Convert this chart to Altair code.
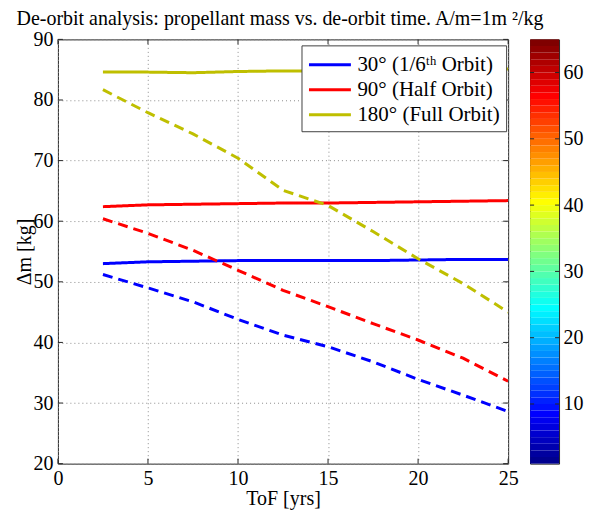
import altair as alt
import pandas as pd

# ---------------- data ----------------
tof_years = [2.5, 5, 7.5, 10, 12.5, 15, 17.5, 20, 22.5, 25]
series_labels = ["30° (1/6ᵗʰ Orbit)", "90° (Half Orbit)", "180° (Full Orbit)"]
series_colors = ["#0000FF", "#FF0000", "#BFBF00"]

solid_30 = [53.0, 53.3, 53.4, 53.5, 53.5, 53.5, 53.5, 53.6, 53.7, 53.7]
solid_90 = [62.4, 62.7, 62.8, 62.9, 63.0, 63.0, 63.1, 63.2, 63.3, 63.4]
solid_180 = [84.6, 84.6, 84.5, 84.7, 84.8, 84.8, 84.9, 85.0, 85.1, 85.1]
dashed_30 = [51.2, 49.0, 46.7, 43.8, 41.2, 39.3, 36.8, 33.9, 31.3, 28.6]
dashed_90 = [60.4, 58.0, 55.2, 51.9, 48.6, 45.9, 43.1, 40.4, 37.4, 33.6]
dashed_180 = [81.7, 77.9, 74.4, 70.4, 65.1, 62.6, 58.3, 53.8, 49.7, 45.0]

x_ticks = [0, 5, 10, 15, 20, 25]
y_ticks = [20, 30, 40, 50, 60, 70, 80, 90]
cbar_ticks = [10, 20, 30, 40, 50, 60]
cbar_domain = [1, 65]


# MATLAB jet(64) colormap
def jet(m=64):
    n = -(-m // 4)
    u = [i / n for i in range(1, n + 1)] + [1.0] * (n - 1) + [i / n for i in range(n, 0, -1)]
    off = -(-n // 2) - (1 if m % 4 == 1 else 0)
    r = [0.0] * m
    g = [0.0] * m
    b = [0.0] * m
    for k, val in enumerate(u, start=1):
        gi = off + k
        ri = gi + n
        bi = gi - n
        if 1 <= gi <= m:
            g[gi - 1] = val
        if 1 <= ri <= m:
            r[ri - 1] = val
        if 1 <= bi <= m:
            b[bi - 1] = val
    return ["#%02x%02x%02x" % (round(r[i] * 255), round(g[i] * 255), round(b[i] * 255)) for i in range(m)]


jet64 = jet(64)

rows = []
for label, solid, dashed in zip(series_labels,
                                [solid_30, solid_90, solid_180],
                                [dashed_30, dashed_90, dashed_180]):
    for t, v in zip(tof_years, solid):
        rows.append({"tof": t, "dm": v, "series": label, "style": "solid"})
    for t, v in zip(tof_years, dashed):
        rows.append({"tof": t, "dm": v, "series": label, "style": "dashed"})
df = pd.DataFrame(rows)
df["key"] = df["series"] + "|" + df["style"]

FONT = "Liberation Serif"
W, H = 451, 425
TICK = "#262626"

xscale = alt.Scale(domain=[0, 25], nice=False, zero=False)
yscale = alt.Scale(domain=[20, 90], nice=False, zero=False)

x_axis = alt.Axis(values=x_ticks, title="ToF [yrs]", grid=True, gridDash=[1, 3],
                  gridColor="#8c8c8c", gridOpacity=1, ticks=False, domain=False,
                  labelFlush=False,
                  labelFont=FONT, labelFontSize=20, labelColor="black", labelPadding=5,
                  titleFont=FONT, titleFontSize=20, titleFontWeight="normal",
                  titleColor="black", titlePadding=0)
y_axis = alt.Axis(values=y_ticks, title="Δm [kg]", grid=True, gridDash=[1, 3],
                  gridColor="#8c8c8c", gridOpacity=1, ticks=False, domain=False,
                  labelFlush=False,
                  labelFont=FONT, labelFontSize=20, labelColor="black", labelPadding=5,
                  titleFont=FONT, titleFontSize=20, titleFontWeight="normal",
                  titleColor="black", titlePadding=-2)

X = lambda f: alt.X(f, scale=xscale, axis=x_axis)
Y = lambda f: alt.Y(f, scale=yscale, axis=y_axis)

lines = alt.Chart(df).mark_line(strokeWidth=3, clip=True).encode(
    x=X("tof:Q"),
    y=Y("dm:Q"),
    stroke=alt.Stroke("series:N", scale=alt.Scale(domain=series_labels, range=series_colors),
                      legend=alt.Legend(title=None, orient="none", legendX=244, legendY=6,
                                        fillColor="white", strokeColor="#404040",
                                        padding=6, symbolType="M-1,0L2.5,0",
                                        symbolSize=576, symbolStrokeWidth=3,
                                        labelFont=FONT, labelFontSize=21, labelColor="black",
                                        labelOffset=23, rowPadding=1, labelLimit=300)),
    strokeDash=alt.StrokeDash("style:N",
                              scale=alt.Scale(domain=["solid", "dashed"], range=[[1, 0], [10, 6]]),
                              legend=None),
    detail="key:N",
    order="tof:Q",
)

ydf = pd.DataFrame({"tof": [0] * len(y_ticks), "dm": y_ticks})
xdf = pd.DataFrame({"tof": x_ticks, "dm": [20] * len(x_ticks)})
yt_l = alt.Chart(ydf).mark_rule(color=TICK).encode(
    y=Y("dm:Q"), x=alt.value(0), x2=alt.value(5))
yt_r = alt.Chart(ydf).mark_rule(color=TICK).encode(
    y=Y("dm:Q"), x=alt.value(W - 5), x2=alt.value(W))
xt_b = alt.Chart(xdf).mark_rule(color=TICK).encode(
    x=X("tof:Q"), y=alt.value(H - 5), y2=alt.value(H))
xt_t = alt.Chart(xdf).mark_rule(color=TICK).encode(
    x=X("tof:Q"), y=alt.value(0), y2=alt.value(5))

main = alt.layer(lines, yt_l, yt_r, xt_b, xt_t).properties(width=W, height=H)

cb = pd.DataFrame({"lo": list(range(1, 65)), "hi": list(range(2, 66)), "c": jet64})
cscale = alt.Scale(domain=cbar_domain, nice=False, zero=False)
c_axis = alt.Axis(orient="right", values=cbar_ticks, ticks=False, domain=False,
                  grid=False, title=None, labelFont=FONT, labelFontSize=20,
                  labelColor="black", labelPadding=4, labelFlush=False)
cbar_rect = alt.Chart(cb).mark_rect(strokeWidth=0).encode(
    y=alt.Y("lo:Q", scale=cscale, axis=c_axis),
    y2="hi:Q",
    fill=alt.Fill("c:N", scale=None, legend=None),
    x=alt.value(0), x2=alt.value(29),
)
cdf = pd.DataFrame({"lo": cbar_ticks})
ct_l = alt.Chart(cdf).mark_rule(color=TICK).encode(
    y=alt.Y("lo:Q", scale=cscale, axis=c_axis), x=alt.value(0), x2=alt.value(4))
ct_r = alt.Chart(cdf).mark_rule(color=TICK).encode(
    y=alt.Y("lo:Q", scale=cscale, axis=c_axis), x=alt.value(25), x2=alt.value(29))
cbar = alt.layer(cbar_rect, ct_l, ct_r).properties(width=29, height=H)

chart = alt.hconcat(main, cbar, spacing=22, bounds="flush").resolve_scale(
    x="independent", y="independent", stroke="independent"
).properties(
    title=alt.TitleParams("De-orbit analysis: propellant mass vs. de-orbit time. A/m=1m ²/kg",
                          font=FONT, fontSize=20, fontWeight="normal", color="black",
                          anchor="middle", dx=-19, offset=0),
    padding={"left": 6, "top": 0, "right": 0, "bottom": 0},
).configure_view(stroke="#262626", strokeWidth=1)

chart.save("out.html", embed_options={"renderer": "svg", "actions": False})
